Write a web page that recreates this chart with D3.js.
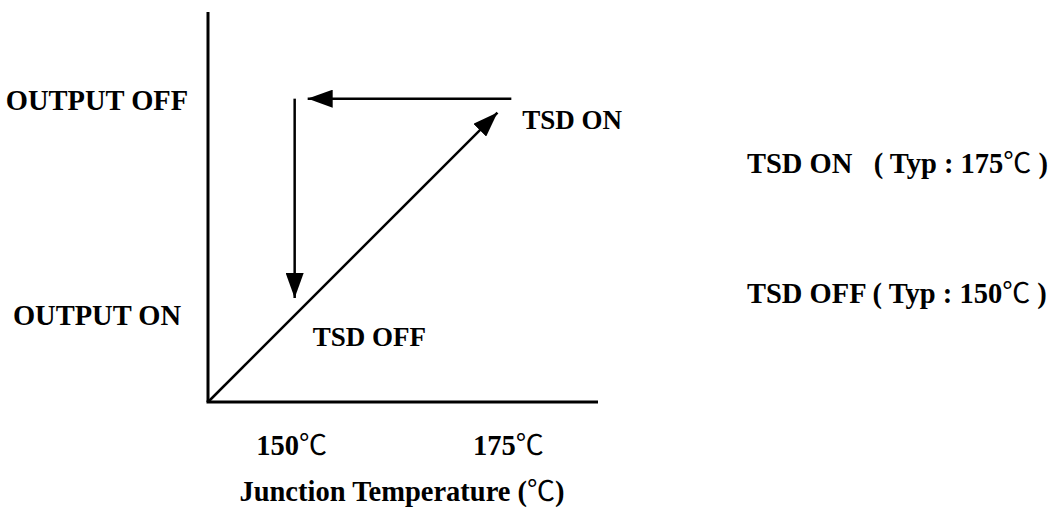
<!DOCTYPE html>
<html>
<head>
<meta charset="utf-8">
<script src="https://cdn.jsdelivr.net/npm/d3@7"></script>
<style>
  body { margin: 0; background: #fff; }
  text { font-family: "Liberation Serif", "Times New Roman", serif; font-weight: bold; fill: #000; }
  .deg { font-family: "Noto Sans CJK JP", "DejaVu Sans", sans-serif; font-weight: normal; }
</style>
</head>
<body>
<div id="chart"></div>
<script>
const width = 1058;
const height = 516;

// temperatures (°C) and output states
const tempTicks = [150, 175];
const stateNames = ["OUTPUT OFF", "OUTPUT ON"];
const stateLevels = [35, 12];         // y level of each state label
const tsdOn = 175;                     // TSD ON threshold
const tsdOff = 150;                    // TSD OFF threshold
const rampPath = [[140, 0], [173.4, 33.4]];          // heating ramp
const returnPath = [[175, 35], [151.5, 35]];         // off level, going back
const dropPath = [[150, 35], [150, 12]];             // drop to on
const noteLines = [
  { label: "TSD ON", typ: "( Typ : 175", gap: "   " },
  { label: "TSD OFF", typ: "( Typ : 150", gap: " " }
];
const axisTitle = "Junction Temperature (";

const svg = d3.select("#chart")
  .append("svg")
  .attr("width", width)
  .attr("height", height);

const x = d3.scaleLinear().domain([140, 185]).range([208, 598]);
const y = d3.scaleLinear().domain([0, 45]).range([402, 12]);

// arrow head
svg.append("defs").append("marker")
  .attr("id", "head")
  .attr("markerUnits", "userSpaceOnUse")
  .attr("viewBox", "0 -9 25 18")
  .attr("refX", 25)
  .attr("refY", 0)
  .attr("markerWidth", 25)
  .attr("markerHeight", 18)
  .attr("orient", "auto")
  .append("path")
  .attr("d", "M0,-9L25,0L0,9Z")
  .attr("fill", "#000");

// axes
svg.append("line")
  .attr("x1", x(140)).attr("x2", x(140))
  .attr("y1", y(0)).attr("y2", y(45))
  .attr("stroke", "#000").attr("stroke-width", 3);
svg.append("line")
  .attr("x1", x(140) - 1.5).attr("x2", x(185))
  .attr("y1", y(0)).attr("y2", y(0))
  .attr("stroke", "#000").attr("stroke-width", 3);

const line = d3.line().x(d => x(d[0])).y(d => y(d[1]));

[rampPath, returnPath, dropPath].forEach(p => {
  svg.append("path")
    .attr("d", line(p))
    .attr("fill", "none")
    .attr("stroke", "#000")
    .attr("stroke-width", 2.5)
    .attr("marker-end", "url(#head)");
});

// state labels on the y side
svg.selectAll(".state")
  .data(stateNames)
  .enter()
  .append("text")
  .attr("class", "state")
  .attr("x", 97)
  .attr("y", (d, i) => y(stateLevels[i]) + (i === 0 ? 11 : 27))
  .attr("text-anchor", "middle")
  .style("font-size", "28.5px")
  .text(d => d);

// in-plot labels
svg.append("text")
  .attr("x", x(tsdOn) + 11)
  .attr("y", y(35) + 30)
  .style("font-size", "27px")
  .text("TSD ON");
svg.append("text")
  .attr("x", x(tsdOff) + 18)
  .attr("y", y(6.5))
  .style("font-size", "27px")
  .text("TSD OFF");

// x tick labels
const ticks = svg.selectAll(".tick")
  .data(tempTicks)
  .enter()
  .append("text")
  .attr("class", "tick")
  .attr("x", d => x(d) - 3)
  .attr("y", 455)
  .attr("text-anchor", "middle")
  .style("font-size", "28.5px");
ticks.append("tspan").text(d => d);
ticks.append("tspan").attr("class", "deg").style("font-size", "28px").text("℃");

// axis title
const title = svg.append("text")
  .attr("x", 402)
  .attr("y", 501)
  .attr("text-anchor", "middle")
  .style("font-size", "28.5px");
title.append("tspan").text(axisTitle);
title.append("tspan").attr("class", "deg").style("font-size", "28px").text("℃");
title.append("tspan").text(")");

// notes on the right
svg.selectAll(".note")
  .data(noteLines)
  .enter()
  .append("text")
  .attr("class", "note")
  .attr("x", 747)
  .attr("y", (d, i) => (i === 0 ? 173 : 303))
  .style("font-size", "28.5px")
  .style("white-space", "pre")
  .each(function(d) {
    const t = d3.select(this);
    t.append("tspan").text(d.label + d.gap + d.typ);
    t.append("tspan").attr("class", "deg").style("font-size", "28px").text("℃");
    t.append("tspan").text(" )");
  });
</script>
</body>
</html>
